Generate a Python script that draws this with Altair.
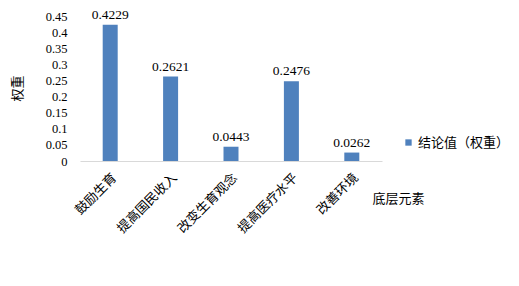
import altair as alt
import pandas as pd

categories = ["鼓励生育", "提高国民收入", "改变生育观念", "提高医疗水平", "改善环境"]
weights = [0.4229, 0.2621, 0.0443, 0.2476, 0.0262]
series = "结论值（权重）"
y_ticks = [0, 0.05, 0.1, 0.15, 0.2, 0.25, 0.3, 0.35, 0.4, 0.45]

df = pd.DataFrame({"cat": categories, "w": weights, "s": [series] * len(categories)})
df["lbl"] = [f"{v:.4f}" for v in weights]

FONT = "Liberation Serif, Noto Sans CJK SC"

base = alt.Chart(df).encode(
    x=alt.X("cat:N", sort=categories,
            scale=alt.Scale(paddingInner=0, paddingOuter=0),
            axis=alt.Axis(title="底层元素", labelAngle=-45, labelFontSize=13,
                          labelFont=FONT, titleFont=FONT,
                          labelPadding=10, ticks=False, domainColor="#D9D9D9",
                          labelColor="#000", titleColor="#000",
                          titleFontSize=13, titleFontWeight="normal",
                          titleX=318, titleY=37, titleAlign="center",
                          titleBaseline="middle")),
    y=alt.Y("w:Q", scale=alt.Scale(domain=[0, 0.45], nice=False),
            axis=alt.Axis(title="权重", values=y_ticks, format=".2~f",
                          grid=False, domain=False, ticks=False,
                          labelFont="Liberation Serif", titleFont=FONT,
                          labelOverlap=False, labelBound=False,
                          labelPadding=13, labelFontSize=12.5, labelColor="#000",
                          titleColor="#000", titleFontSize=13,
                          titleFontWeight="normal", titleX=-63, titleY=72,
                          titleAlign="center", titleBaseline="middle")),
)

bars = base.mark_bar(size=15, color="#4F81BD").encode(
    color=alt.Color("s:N", scale=alt.Scale(range=["#4F81BD"]),
                    legend=alt.Legend(title=None, orient="none", legendX=322,
                                      legendY=120, symbolType="square",
                                      symbolSize=40, labelFontSize=13,
                                      labelFont=FONT,
                                      labelColor="#000", labelOffset=3)),
)

labels = base.mark_text(dy=-10, fontSize=13.5, color="#000", font=FONT).encode(
    text="lbl:N",
)

chart = (bars + labels).properties(
    width=302, height=145,
    padding={"left": 72, "top": 8, "right": 129, "bottom": 117},
    autosize=alt.AutoSizeParams(type="none"),
).configure(font=FONT).configure_view(stroke=None)

chart.save("out.html", embed_options={"renderer": "svg", "actions": False})
